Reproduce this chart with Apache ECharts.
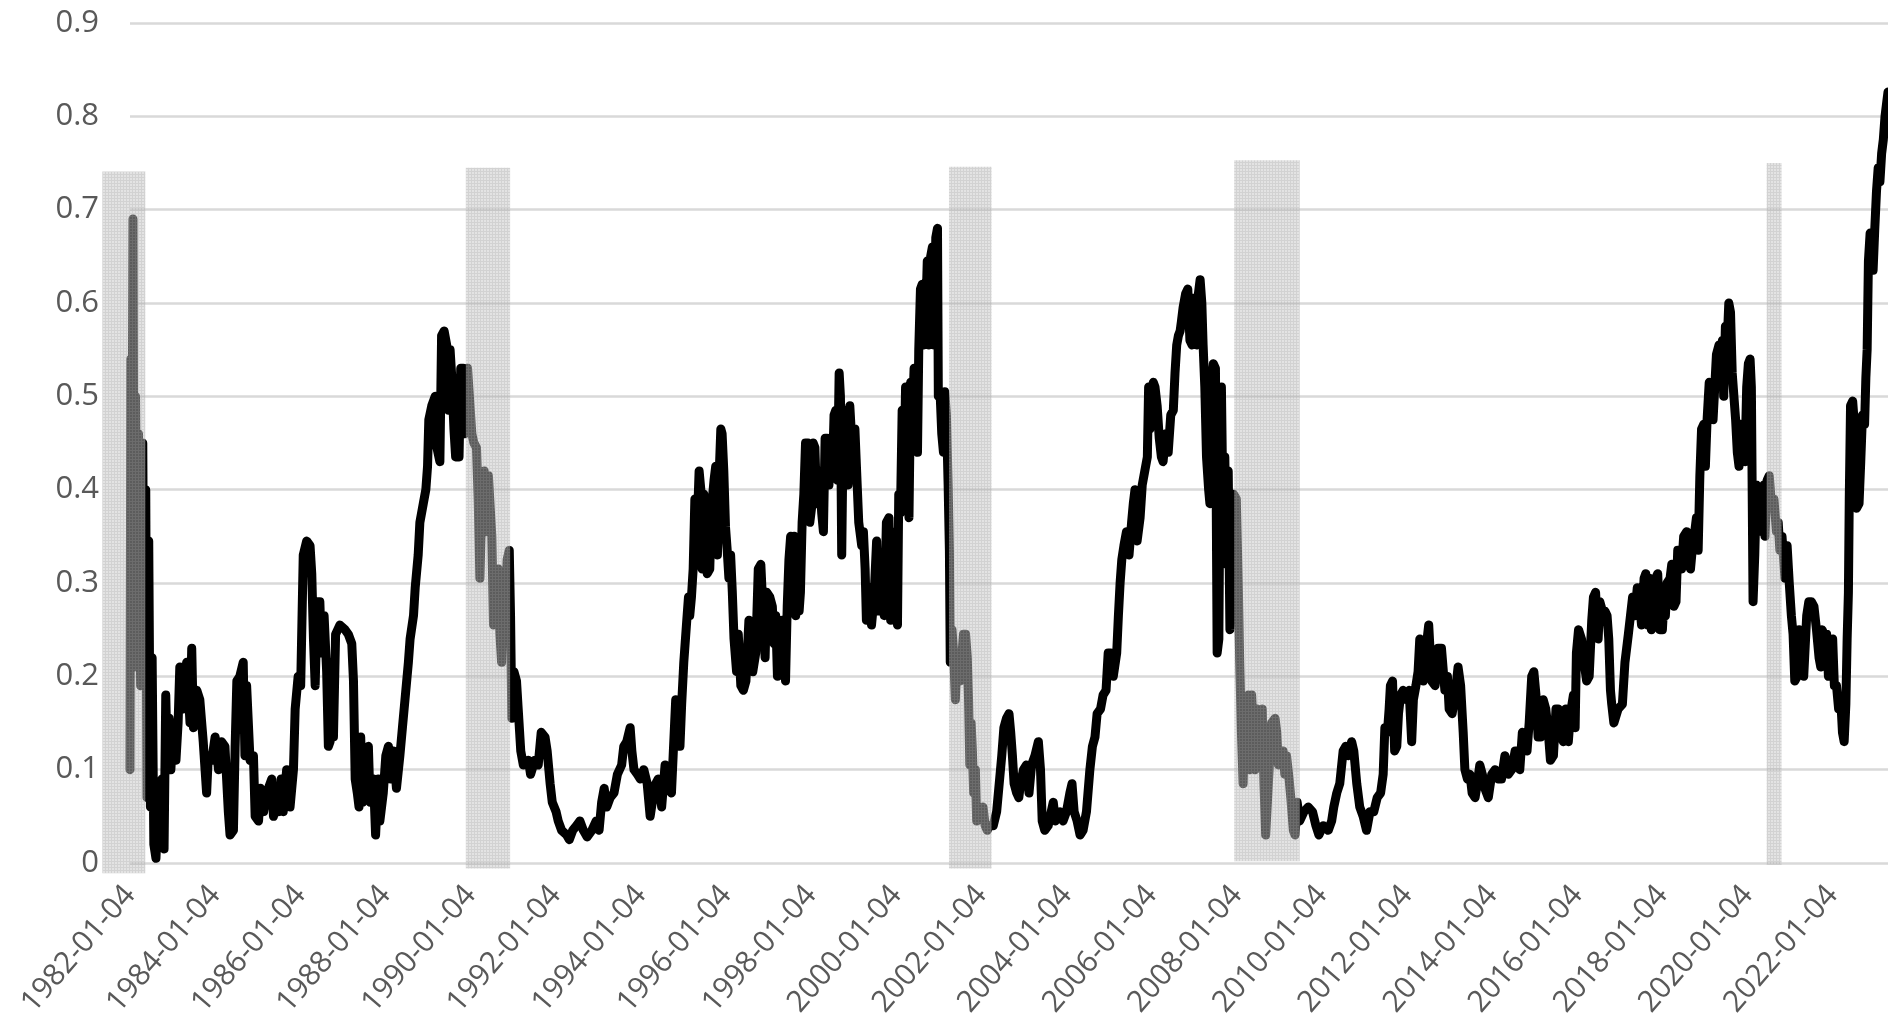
<!DOCTYPE html>
<html><head><meta charset="utf-8">
<script src="https://cdn.jsdelivr.net/npm/echarts@6/dist/echarts.min.js"></script>
<style>html,body{margin:0;padding:0;background:#fff;}#c{width:1888px;height:1018px;}</style>
</head><body><div id="c"></div>
<script>
// x tick labels (every two years)
const xTickYears = [1982,1984,1986,1988,1990,1992,1994,1996,1998,2000,2002,2004,2006,2008,2010,2012,2014,2016,2018,2020,2022];
const xTickLabels = ['1982-01-04','1984-01-04','1986-01-04','1988-01-04','1990-01-04','1992-01-04','1994-01-04','1996-01-04','1998-01-04','2000-01-04','2002-01-04','2004-01-04','2006-01-04','2008-01-04','2010-01-04','2012-01-04','2014-01-04','2016-01-04','2018-01-04','2020-01-04','2022-01-04'];
const yTickLabels = ['0','0.1','0.2','0.3','0.4','0.5','0.6','0.7','0.8','0.9'];

// series: time (decimal year) and value
const t = [
1982.00,1982.02,1982.04,1982.07,1982.10,1982.13,1982.17,1982.20,1982.25,1982.30,1982.33,1982.37,1982.40,1982.44,1982.48,1982.52,1982.56,1982.61,1982.66,1982.70,1982.75,1982.80,1982.84,1982.88,1982.92,1982.96,
1983.02,1983.08,1983.13,1983.17,1983.25,1983.33,1983.41,1983.45,1983.49,1983.57,1983.64,1983.72,1983.80,1983.84,1983.92,
1984.00,1984.08,1984.15,1984.23,1984.31,1984.35,1984.43,1984.47,1984.51,1984.58,1984.66,1984.70,1984.74,1984.82,1984.90,1984.94,
1985.02,1985.06,1985.14,1985.21,1985.33,1985.37,1985.45,1985.50,1985.55,1985.60,1985.68,1985.76,1985.84,1985.88,1985.95,
1986.01,1986.07,1986.15,1986.23,1986.27,1986.31,1986.35,1986.40,1986.46,1986.50,1986.56,1986.62,1986.66,1986.70,1986.74,1986.78,1986.83,1986.93,
1987.05,1987.13,1987.21,1987.25,1987.29,1987.34,1987.38,1987.42,1987.46,1987.52,1987.60,1987.64,1987.72,1987.77,1987.83,1987.87,1987.95,
1988.01,1988.07,1988.12,1988.19,1988.26,1988.34,1988.40,1988.46,1988.54,1988.58,1988.66,1988.70,1988.77,1988.81,1988.89,1988.95,1988.99,
1989.02,1989.09,1989.17,1989.21,1989.28,1989.32,1989.38,1989.44,1989.48,1989.52,1989.56,1989.61,1989.65,1989.69,1989.73,1989.77,1989.83,1989.87,1989.93,
1990.03,1990.08,1990.14,1990.18,1990.22,1990.26,1990.32,1990.36,1990.42,1990.46,1990.50,1990.54,1990.57,1990.61,1990.65,1990.69,1990.73,1990.77,1990.81,1990.86,1990.91,1990.94,1990.97,
1991.02,1991.08,1991.12,1991.18,1991.24,1991.36,1991.41,1991.51,1991.59,1991.66,1991.75,1991.80,1991.87,1991.92,
1992.01,1992.06,1992.14,1992.26,1992.32,1992.40,1992.49,1992.57,1992.65,1992.74,1992.85,1992.95,
1993.02,1993.08,1993.14,1993.20,1993.28,1993.37,1993.45,1993.55,1993.60,1993.67,1993.75,1993.79,1993.84,1993.92,1993.99,
1994.07,1994.15,1994.22,1994.27,1994.35,1994.41,1994.49,1994.57,1994.65,1994.72,1994.76,1994.82,1994.88,1994.92,1994.96,
1995.01,1995.08,1995.12,1995.15,1995.19,1995.23,1995.27,1995.31,1995.37,1995.41,1995.44,1995.48,1995.52,1995.56,1995.62,1995.66,1995.72,1995.76,1995.80,1995.84,1995.88,1995.91,1995.95,1995.99,
1996.03,1996.07,1996.11,1996.15,1996.19,1996.25,1996.29,1996.35,1996.41,1996.47,1996.54,1996.58,1996.63,1996.70,1996.76,1996.82,1996.88,1996.92,1996.96,
1997.03,1997.09,1997.13,1997.17,1997.21,1997.27,1997.32,1997.36,1997.40,1997.44,1997.48,1997.52,1997.56,1997.60,1997.64,1997.68,1997.72,1997.75,1997.79,1997.83,1997.87,1997.93,1997.97,
1998.01,1998.05,1998.09,1998.13,1998.19,1998.25,1998.29,1998.33,1998.38,1998.42,1998.46,1998.50,1998.54,1998.58,1998.62,1998.66,1998.69,1998.72,1998.76,1998.80,1998.84,1998.87,1998.91,1998.99,
1999.03,1999.07,1999.12,1999.19,1999.23,1999.27,1999.30,1999.34,1999.42,1999.48,1999.54,1999.58,1999.66,1999.72,1999.77,1999.83,1999.87,1999.91,1999.95,1999.99,
2000.03,2000.06,2000.10,2000.14,2000.18,2000.22,2000.26,2000.30,2000.34,2000.38,2000.42,2000.46,2000.50,2000.53,2000.57,2000.61,2000.65,2000.69,2000.73,2000.77,2000.81,2000.85,2000.89,2000.93,2000.97,2000.99,
2001.03,2001.07,2001.11,2001.14,2001.18,2001.22,2001.25,2001.27,2001.31,2001.35,2001.39,2001.43,2001.50,2001.58,2001.63,2001.67,2001.70,2001.73,2001.76,2001.79,2001.82,2001.86,2001.89,2001.94,2001.99,
2002.04,2002.09,2002.14,2002.18,2002.28,2002.36,2002.41,2002.48,2002.53,2002.59,2002.65,2002.69,2002.73,2002.77,2002.83,2002.88,2002.92,2002.99,
2003.06,2003.12,2003.18,2003.26,2003.34,2003.39,2003.43,2003.49,2003.57,2003.69,2003.74,2003.85,2003.92,
2004.00,2004.08,2004.13,2004.18,2004.25,2004.32,2004.39,2004.47,2004.55,2004.61,2004.67,2004.72,2004.80,2004.86,2004.93,2004.98,
2005.04,2005.10,2005.18,2005.22,2005.26,2005.30,2005.35,2005.41,2005.47,2005.53,2005.57,2005.61,2005.66,2005.73,2005.78,2005.84,2005.90,2005.93,2005.96,
2006.04,2006.08,2006.13,2006.18,2006.23,2006.27,2006.33,2006.39,2006.45,2006.51,2006.55,2006.59,2006.63,2006.67,2006.70,2006.74,2006.80,2006.85,2006.90,2006.95,2006.98,
2007.02,2007.06,2007.10,2007.14,2007.18,2007.21,2007.25,2007.29,2007.34,2007.37,2007.41,2007.45,2007.50,2007.54,2007.58,2007.61,2007.64,2007.68,2007.72,2007.76,2007.80,2007.84,2007.89,2007.93,2007.99,
2008.04,2008.07,2008.11,2008.15,2008.19,2008.27,2008.31,2008.35,2008.39,2008.43,2008.48,2008.54,2008.60,2008.64,2008.68,2008.72,2008.76,2008.82,2008.90,2008.94,2008.98,
2009.01,2009.09,2009.13,2009.17,2009.23,2009.27,2009.33,2009.37,2009.42,2009.48,2009.58,2009.68,2009.78,2009.86,2009.93,
2010.03,2010.15,2010.23,2010.28,2010.35,2010.42,2010.50,2010.56,2010.62,2010.70,2010.75,2010.82,2010.89,2010.97,
2011.05,2011.13,2011.22,2011.30,2011.38,2011.44,2011.48,2011.54,2011.58,2011.61,2011.66,2011.71,2011.76,2011.80,2011.85,2011.91,2011.99,
2012.05,2012.11,2012.15,2012.21,2012.26,2012.30,2012.34,2012.38,2012.46,2012.51,2012.58,2012.66,2012.73,2012.81,2012.89,2012.95,2012.99,
2013.06,2013.13,2013.20,2013.26,2013.32,2013.36,2013.42,2013.48,2013.53,2013.60,2013.65,2013.71,2013.77,2013.83,2013.91,2013.99,
2014.07,2014.14,2014.22,2014.30,2014.38,2014.46,2014.54,2014.61,2014.65,2014.71,2014.77,2014.82,2014.87,2014.93,2014.98,
2015.03,2015.08,2015.14,2015.20,2015.26,2015.32,2015.37,2015.44,2015.50,2015.55,2015.61,2015.67,2015.73,2015.79,2015.84,2015.91,2015.95,2015.98,
2016.03,2016.10,2016.16,2016.22,2016.28,2016.34,2016.38,2016.43,2016.49,2016.53,2016.59,2016.65,2016.70,2016.74,2016.78,2016.81,2016.86,2016.96,
2017.06,2017.12,2017.20,2017.25,2017.30,2017.35,2017.41,2017.46,2017.51,2017.57,2017.61,2017.65,2017.69,2017.74,2017.78,2017.84,2017.89,2017.94,
2018.00,2018.04,2018.07,2018.11,2018.18,2018.22,2018.27,2018.32,2018.36,2018.41,2018.45,2018.50,2018.57,2018.61,2018.66,2018.71,2018.76,2018.80,2018.84,2018.88,2018.92,2018.97,
2019.01,2019.05,2019.10,2019.15,2019.19,2019.23,2019.27,2019.33,2019.37,2019.41,2019.44,2019.48,2019.52,2019.56,2019.60,2019.64,2019.68,2019.72,2019.76,2019.80,2019.84,2019.88,2019.94,2019.98,
2020.02,2020.06,2020.09,2020.13,2020.17,2020.21,2020.27,2020.33,2020.38,2020.41,2020.46,2020.51,2020.56,2020.62,2020.68,2020.72,2020.76,2020.81,2020.88,2020.93,2020.98,
2021.03,2021.07,2021.11,2021.17,2021.21,2021.25,2021.28,2021.32,2021.39,2021.44,2021.50,2021.56,2021.62,2021.68,2021.72,2021.75,2021.80,2021.86,2021.90,2021.95,
2022.00,2022.04,2022.09,2022.14,2022.19,2022.23,2022.27,2022.31,2022.34,2022.37,2022.39,2022.42,2022.47,2022.51,2022.56,2022.62,2022.66,2022.70,2022.75,2022.78,2022.81,2022.84,2022.88,2022.92,2022.95,2022.99,
2023.03,2023.07,2023.11,2023.15,2023.19,2023.23,2023.27,2023.30
];
const v = [
0.10,0.54,0.30,0.69,0.21,0.50,0.29,0.46,0.19,0.45,0.19,0.40,0.07,0.345,0.06,0.22,0.02,0.005,0.06,0.02,0.09,0.015,0.18,0.10,0.155,0.10,
0.15,0.11,0.15,0.21,0.165,0.215,0.15,0.23,0.145,0.185,0.175,0.13,0.075,0.115,0.11,
0.135,0.10,0.13,0.125,0.055,0.03,0.035,0.125,0.195,0.20,0.215,0.115,0.19,0.11,0.115,0.05,
0.045,0.08,0.055,0.075,0.09,0.05,0.07,0.055,0.09,0.055,0.10,0.06,0.10,0.165,0.20,
0.19,0.33,0.345,0.34,0.31,0.24,0.19,0.28,0.28,0.225,0.265,0.205,0.125,0.13,0.215,0.135,0.245,0.255,
0.25,0.245,0.235,0.195,0.09,0.075,0.06,0.135,0.065,0.12,0.125,0.065,0.09,0.03,0.09,0.045,0.075,
0.115,0.125,0.09,0.12,0.08,0.115,0.145,0.175,0.215,0.24,0.265,0.295,0.33,0.365,0.385,0.40,0.425,
0.475,0.49,0.50,0.445,0.43,0.565,0.57,0.555,0.485,0.55,0.52,0.465,0.435,0.485,0.435,0.53,0.53,0.46,0.53,
0.46,0.45,0.445,0.39,0.305,0.375,0.42,0.355,0.415,0.415,0.35,0.255,0.315,0.27,0.315,0.245,0.215,0.31,0.265,0.325,0.335,0.265,0.155,
0.205,0.195,0.165,0.12,0.105,0.11,0.095,0.11,0.105,0.14,0.135,0.12,0.085,0.065,
0.055,0.045,0.035,0.03,0.025,0.035,0.04,0.045,0.035,0.028,0.035,0.045,
0.035,0.065,0.08,0.06,0.07,0.075,0.095,0.105,0.125,0.13,0.145,0.12,0.10,0.095,0.09,
0.10,0.085,0.05,0.065,0.085,0.09,0.06,0.105,0.08,0.075,0.115,0.175,0.165,0.125,0.17,
0.215,0.26,0.285,0.265,0.285,0.315,0.39,0.34,0.42,0.40,0.315,0.395,0.38,0.31,0.315,0.38,0.41,0.425,0.33,0.415,0.465,0.46,0.42,0.36,
0.335,0.305,0.33,0.29,0.24,0.205,0.245,0.19,0.185,0.195,0.26,0.225,0.205,0.225,0.315,0.32,0.26,0.22,0.29,
0.285,0.275,0.235,0.265,0.20,0.255,0.26,0.235,0.195,0.275,0.325,0.35,0.32,0.35,0.265,0.315,0.27,0.29,0.365,0.395,0.45,0.45,0.365,
0.38,0.45,0.445,0.385,0.42,0.375,0.355,0.455,0.455,0.405,0.455,0.415,0.48,0.485,0.41,0.525,0.50,0.33,0.485,0.405,0.465,0.405,0.49,0.425,
0.465,0.42,0.365,0.34,0.355,0.315,0.26,0.295,0.255,0.285,0.345,0.27,0.28,0.265,0.365,0.37,0.26,0.35,0.30,0.355,
0.255,0.395,0.375,0.485,0.405,0.51,0.50,0.37,0.515,0.475,0.53,0.53,0.44,0.55,0.615,0.62,0.555,0.58,0.645,0.555,0.65,0.66,0.555,0.67,0.68,0.50,
0.505,0.46,0.44,0.505,0.48,0.405,0.335,0.215,0.25,0.225,0.175,0.225,0.195,0.245,0.245,0.22,0.175,0.105,0.15,0.12,0.075,0.10,0.045,0.06,0.055,
0.06,0.04,0.035,0.04,0.04,0.055,0.08,0.115,0.145,0.155,0.16,0.14,0.115,0.085,0.075,0.07,0.085,0.10,
0.105,0.075,0.105,0.115,0.13,0.10,0.045,0.035,0.04,0.065,0.045,0.055,0.045,
0.055,0.075,0.085,0.055,0.045,0.03,0.035,0.055,0.10,0.125,0.135,0.16,0.165,0.18,0.185,0.225,
0.225,0.20,0.225,0.265,0.30,0.325,0.34,0.355,0.33,0.365,0.385,0.40,0.345,0.37,0.405,0.42,0.435,0.51,0.465,
0.515,0.51,0.49,0.455,0.435,0.43,0.46,0.44,0.48,0.485,0.525,0.555,0.565,0.57,0.58,0.595,0.61,0.615,0.56,0.555,0.605,
0.56,0.555,0.61,0.625,0.60,0.555,0.51,0.435,0.40,0.385,0.515,0.535,0.53,0.225,0.24,0.445,0.51,0.365,0.435,0.32,0.42,0.25,0.38,0.395,0.39,
0.29,0.215,0.14,0.085,0.165,0.18,0.10,0.18,0.14,0.10,0.165,0.155,0.165,0.085,0.03,0.03,0.10,0.15,0.155,0.14,0.105,
0.115,0.12,0.095,0.115,0.09,0.07,0.035,0.03,0.065,0.045,0.055,0.06,0.055,0.04,0.03,
0.04,0.035,0.045,0.06,0.075,0.085,0.12,0.125,0.115,0.13,0.12,0.085,0.06,0.05,
0.035,0.055,0.055,0.07,0.075,0.095,0.145,0.14,0.165,0.19,0.195,0.12,0.125,0.16,0.18,0.185,0.175,
0.185,0.13,0.175,0.19,0.205,0.24,0.24,0.195,0.235,0.255,0.195,0.19,0.23,0.23,0.185,0.20,0.165,
0.16,0.18,0.21,0.19,0.14,0.10,0.09,0.095,0.075,0.07,0.085,0.105,0.095,0.08,0.07,0.095,
0.10,0.09,0.09,0.115,0.095,0.10,0.12,0.12,0.10,0.14,0.135,0.12,0.15,0.20,0.205,
0.18,0.135,0.135,0.175,0.165,0.14,0.11,0.115,0.165,0.165,0.14,0.13,0.165,0.13,0.16,0.18,0.145,0.225,
0.25,0.24,0.215,0.195,0.20,0.26,0.285,0.29,0.24,0.28,0.27,0.27,0.265,0.24,0.185,0.17,0.15,0.165,
0.17,0.215,0.245,0.265,0.285,0.265,0.295,0.28,0.255,0.305,0.31,0.255,0.305,0.25,0.285,0.305,0.31,0.25,
0.25,0.285,0.265,0.30,0.305,0.32,0.275,0.28,0.335,0.335,0.315,0.35,0.355,0.325,0.315,0.34,0.355,0.37,0.335,0.415,0.465,0.47,
0.425,0.475,0.515,0.51,0.475,0.51,0.545,0.555,0.525,0.56,0.50,0.575,0.555,0.60,0.59,0.525,0.50,0.475,0.44,0.425,0.47,0.465,0.43,0.51,
0.535,0.54,0.51,0.28,0.33,0.405,0.40,0.355,0.405,0.35,0.41,0.415,0.385,0.39,0.355,0.365,0.335,0.35,0.305,0.34,0.30,
0.265,0.245,0.195,0.20,0.25,0.205,0.225,0.20,0.265,0.28,0.28,0.275,0.25,0.22,0.21,0.25,0.245,0.245,0.20,0.23,
0.24,0.19,0.19,0.165,0.175,0.14,0.13,0.17,0.24,0.29,0.39,0.49,0.495,0.47,0.38,0.385,0.43,0.48,0.47,0.52,0.55,0.645,0.675,0.665,0.635,0.68,
0.72,0.745,0.73,0.76,0.775,0.80,0.815,0.826
];

// recession shading bands (decimal years and vertical extent)
const recStart  = [1981.35, 1989.89, 2001.24, 2007.94, 2020.45];
const recEnd    = [1982.36, 1990.93, 2002.24, 2009.48, 2020.80];
const recTop    = [0.741, 0.745, 0.746, 0.753, 0.750];
const recBottom = [-0.011, -0.006, -0.006, 0.002, -0.002];

const lineData = t.map((x, i) => [x, v[i]]);
const recData = recStart.map((s, i) => [s, recEnd[i], recTop[i], recBottom[i]]);

function makePattern() {
  const c = document.createElement('canvas');
  c.width = 3; c.height = 3;
  const g = c.getContext('2d');
  g.fillStyle = 'rgba(196,196,196,0.47)';
  g.fillRect(1, 1, 2, 2);
  g.fillStyle = 'rgba(180,180,180,0.6)';
  g.fillRect(0, 0, 3, 1);
  g.fillRect(0, 1, 1, 2);
  return c;
}
const pattern = { image: makePattern(), repeat: 'repeat' };

const chart = echarts.init(document.getElementById('c'), null, { renderer: 'canvas' });
chart.setOption({
  animation: false,
  backgroundColor: '#ffffff',
  grid: { left: 130, right: 0, top: 23, bottom: 155, containLabel: false, outerBoundsMode: 'none' },
  xAxis: {
    type: 'value', min: 1982, max: 2023.3, interval: 2,
    axisLine: { show: false }, axisTick: { show: false }, splitLine: { show: false },
    axisLabel: {
      rotate: 49, margin: 27, color: '#595959', fontSize: 30, fontFamily: 'Open Sans',
      showMaxLabel: false,
      formatter: (val) => {
        const k = xTickYears.indexOf(Math.round(val));
        return (Math.abs(val - Math.round(val)) < 1e-6 && k >= 0) ? xTickLabels[k] : '';
      }
    }
  },
  yAxis: {
    type: 'value', min: 0, max: 0.9, interval: 0.1,
    axisLine: { show: false }, axisTick: { show: false },
    splitLine: { lineStyle: { color: '#d9d9d9', width: 2.5 } },
    axisLabel: {
      margin: 31, color: '#595959', fontSize: 31, fontFamily: 'Open Sans',
      formatter: (val) => yTickLabels[Math.round(val * 10)]
    }
  },
  series: [
    {
      type: 'line', data: lineData, showSymbol: false, clip: false, z: 2,
      lineStyle: { color: '#000000', width: 9, join: 'round', cap: 'round' }
    },
    {
      type: 'custom', data: recData, clip: false, z: 5,
      encode: { x: [0, 1], y: [2, 3] },
      renderItem: (params, api) => {
        const p0 = api.coord([api.value(0), api.value(2)]);
        const p1 = api.coord([api.value(1), api.value(3)]);
        return {
          type: 'rect',
          shape: { x: p0[0], y: p0[1], width: p1[0] - p0[0], height: p1[1] - p0[1] },
          style: { fill: pattern }
        };
      }
    }
  ]
});
</script>
</body></html>
